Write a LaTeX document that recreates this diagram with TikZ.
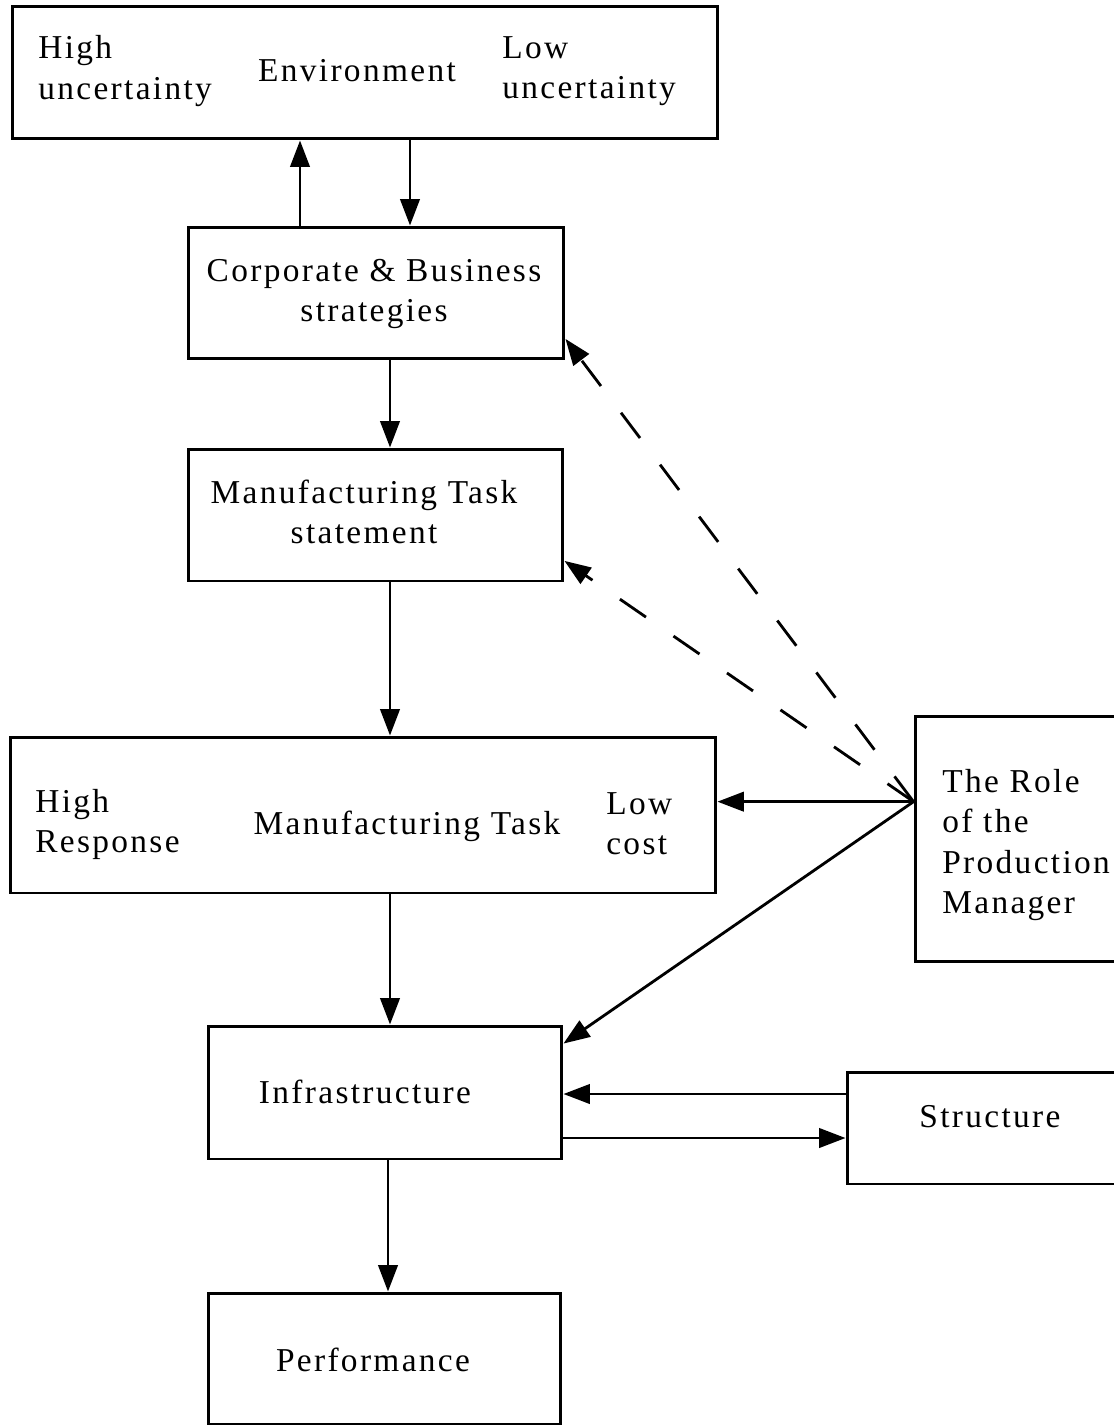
\documentclass[tikz,border=0pt]{standalone}
\usepackage{fontspec}
\setmainfont{Liberation Serif}[LetterSpace=7]
\usetikzlibrary{arrows.meta,calc}
\begin{document}
\begin{tikzpicture}[x=0.02cm,y=-0.02cm,
  box/.style={draw,line width=1.7pt,inner sep=0},
  txt/.style={inner sep=0,font=\fontsize{19}{22.8}\selectfont},
  tip/.style={-{Triangle[length=15pt 0 0,width=11pt 0 0]}},
  arr/.style={line width=1.6pt,tip},
  dsh/.style={line width=1.6pt,dash pattern=on 18pt off 19pt,tip}]
\useasboundingbox (0,0) rectangle (1113,1426);
% boxes
\node[box,minimum width=14.12cm,minimum height=2.66cm] (env) at (365,72.5) {};
\node[box,minimum width=7.52cm,minimum height=2.64cm] (corp) at (376,293) {};
\node[box,minimum width=7.5cm,minimum height=2.64cm] (mts) at (375.5,515) {};
\node[box,minimum width=14.12cm,minimum height=3.12cm] (mt) at (363,815) {};
\node[box,minimum width=4.1cm,minimum height=4.92cm] (role) at (1017.5,839) {};
\node[box,minimum width=7.08cm,minimum height=2.66cm] (infra) at (385,1092.5) {};
\node[box,minimum width=5.46cm,minimum height=2.24cm] (structure) at (983.5,1128) {};
\node[box,minimum width=7.06cm,minimum height=2.62cm] (perf) at (384.5,1358.5) {};
% texts
\node[txt,anchor=west,align=left] (envhi) at (38,71) {High\\uncertainty};
\node[txt] (envmid) at (357,71) {Environment};
\node[txt,anchor=west,align=left] (envlo) at (502,71) {Low\\uncertainty};
\node[txt,align=center] (corptxt) at (374,294) {Corporate \& Business\\strategies};
\node[txt,align=center] (mtstxt) at (364,512) {Manufacturing Task\\statement};
\node[txt,anchor=west,align=left] (mthi) at (35,824) {High\\Response};
\node[txt] (mtmid) at (407,826) {Manufacturing Task};
\node[txt,anchor=west,align=left] (mtlo) at (606,824) {Low\\cost};
\node[txt,anchor=west,align=left] (roletxt) at (942,845) {The Role\\of the\\Production\\Manager};
\node[txt] (infratxt) at (365,1092) {Infrastructure};
\node[txt] (structxt) at (990,1117) {Structure};
\node[txt] (perftxt) at (373,1360) {Performance};
% helper coordinates
\coordinate (cA) at (300,0);
\coordinate (cB) at (410,0);
\coordinate (cM) at (390,0);
\coordinate (cP) at (388,0);
\coordinate (sy1) at (0,1094);
\coordinate (sy2) at (0,1138);
\coordinate (rp) at ($(role.north west)!0.35!(role.south west)$);
\coordinate (ct) at ($(corp.north east)!0.84!(corp.south east)$);
\coordinate (mtt) at ($(mts.north east)!0.84!(mts.south east)$);
\coordinate (it) at ($(infra.north east)!0.14!(infra.south east)$);
% connectors
\draw[arr] (corp.north -| cA) -- (env.south -| cA);
\draw[arr] (env.south -| cB) -- (corp.north -| cB);
\draw[arr] (corp.south -| cM) -- (mts.north -| cM);
\draw[arr] (mts.south -| cM) -- (mt.north -| cM);
\draw[arr] (mt.south -| cM) -- (infra.north -| cM);
\draw[arr] (infra.south -| cP) -- (perf.north -| cP);
\draw[arr] (rp) -- (mt.east |- rp);
\draw[arr] (rp) -- (it);
\draw[dsh] (rp) -- (ct);
\draw[dsh] (rp) -- (mtt);
\draw[arr] (structure.west |- sy1) -- (infra.east |- sy1);
\draw[arr] (infra.east |- sy2) -- (structure.west |- sy2);
\end{tikzpicture}
\end{document}
